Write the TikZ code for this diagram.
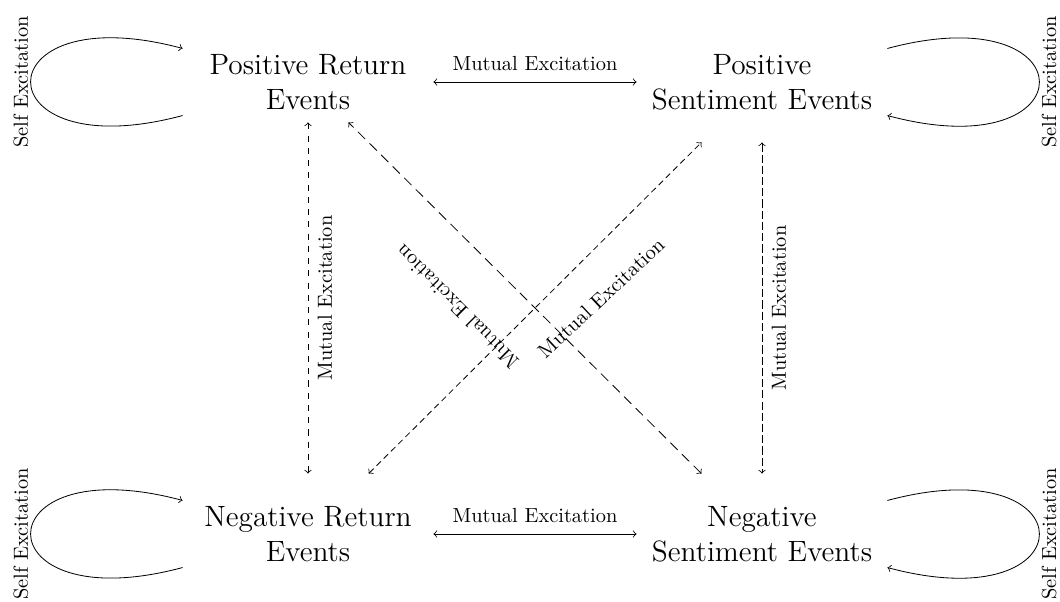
\documentclass[tikz,border=0pt]{standalone}
\usepackage{fontspec}
\begin{document}
\begin{tikzpicture}[x=0.49pt, y=-0.49pt,
  ev/.style={align=center, font=\fontsize{14.4pt}{17pt}\selectfont, minimum width=122.5pt, inner sep=0pt},
  evshort/.style={ev, minimum height=39.2pt},
  evtall/.style={ev, minimum height=58.8pt},
  lbl/.style={font=\fontsize{10pt}{12pt}\selectfont},
  mutual/.style={<->},
  selfloop/.style={->}]
\useasboundingbox (0,0) rectangle (1060,602);
\node[evshort] (PR) at (308,82) {Positive Return\\Events};
\node[evtall] (PS) at (762,82) {Positive\\Sentiment Events};
\node[evtall] (NR) at (308,534) {Negative Return\\Events};
\node[evtall] (NS) at (762,534) {Negative\\Sentiment Events};

\draw[mutual] (PR) -- node[lbl, above=2pt] {Mutual Excitation} (PS);
\draw[mutual] (NR) -- node[lbl, above=2pt] {Mutual Excitation} (NS);
\draw[mutual, dashed] (PR) -- node[lbl, rotate=90, anchor=north, inner sep=4.5pt] {Mutual Excitation} (NR);
\draw[mutual, dash pattern=on 4pt off 1.5pt] (PS) -- node[lbl, rotate=90, anchor=north, inner sep=4.5pt] {Mutual Excitation} (NS);
\draw[mutual, dash pattern=on 5pt off 3pt] (NS) -- (PR);
\node[lbl, rotate=135] (lA) at (457,307) {Mutual Excitation};
\draw[mutual, densely dashed] (NR) -- (PS);
\node[lbl, rotate=43] (lB) at (601,298) {Mutual Excitation};

\draw[selfloop] (PR) to[loop left] node[lbl, midway, rotate=90, anchor=south, inner sep=1pt] {Self Excitation} (PR);
\draw[selfloop] (NR) to[loop left] node[lbl, midway, rotate=90, anchor=south, inner sep=1pt] {Self Excitation} (NR);
\draw[selfloop] (PS) to[loop right] node[lbl, midway, rotate=90, anchor=north, inner sep=1pt] {Self Excitation} (PS);
\draw[selfloop] (NS) to[loop right] node[lbl, midway, rotate=90, anchor=north, inner sep=1pt] {Self Excitation} (NS);
\end{tikzpicture}
\end{document}
